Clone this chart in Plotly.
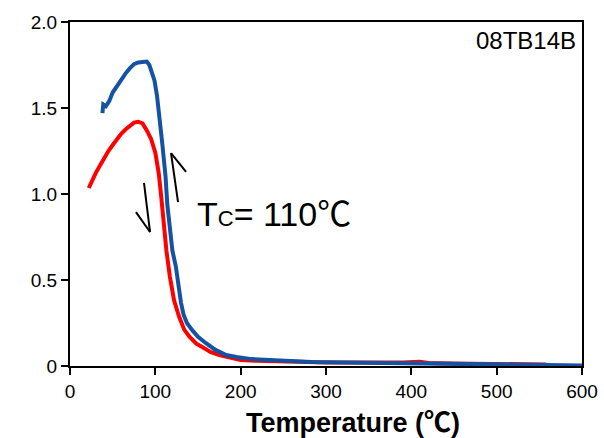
import plotly.graph_objects as go

# Red curve (branch 1)
red_T = [22, 25, 30, 35, 40, 45, 50, 55, 60, 65, 70, 75, 80, 85, 90, 95, 100,
         104, 107, 110, 113, 117, 122, 128, 134, 140, 148, 155, 165, 175, 190,
         200, 220, 240, 260, 280, 300, 330, 360, 390, 410, 420, 450, 480, 510,
         530, 545, 558]
red_M = [1.035, 1.07, 1.12, 1.165, 1.21, 1.25, 1.285, 1.32, 1.35, 1.375, 1.395,
         1.415, 1.42, 1.41, 1.37, 1.32, 1.24, 1.12, 0.98, 0.82, 0.67, 0.52, 0.38,
         0.285, 0.21, 0.17, 0.13, 0.11, 0.08, 0.064, 0.045, 0.035, 0.03, 0.027,
         0.024, 0.022, 0.021, 0.02, 0.019, 0.02, 0.024, 0.018, 0.015, 0.013,
         0.012, 0.01, 0.006, 0.008]

# Blue curve (branch 2)
blue_T = [38, 38.5, 39, 42, 46, 50, 55, 60, 65, 70, 75, 80, 85, 90, 93, 96, 99,
          102, 104, 106, 108, 110, 112, 114, 116, 118, 120, 124, 127, 130, 133,
          137, 143, 150, 159, 170, 183, 195, 213, 240, 283, 320, 360, 400, 450,
          500, 540, 565, 600]
blue_M = [1.47, 1.50, 1.52, 1.51, 1.54, 1.59, 1.63, 1.66, 1.70, 1.73, 1.755,
          1.765, 1.77, 1.77, 1.75, 1.71, 1.66, 1.57, 1.49, 1.38, 1.30, 1.20,
          1.10, 0.94, 0.84, 0.74, 0.67, 0.58, 0.47, 0.37, 0.30, 0.25, 0.21,
          0.17, 0.134, 0.095, 0.064, 0.052, 0.04, 0.032, 0.023, 0.02, 0.018,
          0.013, 0.01, 0.008, 0.007, 0.006, 0.003]

x_ticks = [0, 100, 200, 300, 400, 500, 600]
y_ticks = [0, 0.5, 1.0, 1.5, 2.0]
y_tick_text = ["0", "0.5", "1.0", "1.5", "2.0"]

# arrow glyphs (half arrowheads), data coordinates
down_arrow_x = [86.7, 93.8, 77.3]
down_arrow_y = [1.064, 0.779, 0.895]
up_arrow_x = [126.6, 118.4, 136.0]
up_arrow_y = [0.953, 1.238, 1.128]

FONT = "Arial, Liberation Sans, Noto Sans CJK SC, sans-serif"

fig = go.Figure()
fig.add_trace(go.Scatter(x=red_T, y=red_M, mode="lines",
                         line=dict(color="#FF0000", width=4), showlegend=False))
fig.add_trace(go.Scatter(x=blue_T, y=blue_M, mode="lines",
                         line=dict(color="#1452A3", width=4), showlegend=False))

shapes = []
for xs, ys in [(down_arrow_x, down_arrow_y), (up_arrow_x, up_arrow_y)]:
    shapes.append(dict(type="line", xref="x", yref="y", x0=xs[0], y0=ys[0],
                       x1=xs[1], y1=ys[1], line=dict(color="black", width=2)))
    shapes.append(dict(type="line", xref="x", yref="y", x0=xs[1], y0=ys[1],
                       x1=xs[2], y1=ys[2], line=dict(color="black", width=2)))

fig.update_layout(
    width=604, height=438,
    margin=dict(l=70, r=22, t=22, b=72),
    paper_bgcolor="white", plot_bgcolor="white",
    font=dict(family=FONT, color="black", size=19),
    shapes=shapes,
    annotations=[
        dict(text="08TB14B", xref="paper", yref="paper", x=1, y=0.945,
             xanchor="right", yanchor="middle", xshift=-4, showarrow=False,
             font=dict(size=24, family=FONT, color="black")),
        dict(text="T<span style='font-size:22px'>C</span>= 110℃",
             xref="paper", yref="paper", x=0.244, y=0.442,
             xanchor="left", yanchor="middle", showarrow=False,
             font=dict(size=34, family=FONT, color="black")),
        dict(text="<b>Temperature (℃)</b>", xref="paper", yref="paper",
             x=0.553, y=0, xanchor="center", yanchor="middle", yshift=-57,
             showarrow=False, font=dict(size=27, family=FONT, color="black")),
    ],
)
fig.update_xaxes(range=[0, 600], tickvals=x_ticks, ticks="outside", ticklen=7,
                 tickwidth=2, tickcolor="black", showline=True, linewidth=2,
                 linecolor="black", mirror=True, showgrid=False, zeroline=False,
                 automargin=False, tickfont=dict(size=19))
fig.update_yaxes(range=[0, 2], tickvals=y_ticks, ticktext=y_tick_text,
                 ticks="outside", ticklen=7, tickwidth=2, tickcolor="black",
                 showline=True, linewidth=2, linecolor="black", mirror=True,
                 showgrid=False, zeroline=False, automargin=False,
                 tickfont=dict(size=19))

fig.write_html("out.html",
               config={"displayModeBar": False},
               post_script="document.body.style.margin='0';"
                           "document.body.style.overflow='hidden';")
